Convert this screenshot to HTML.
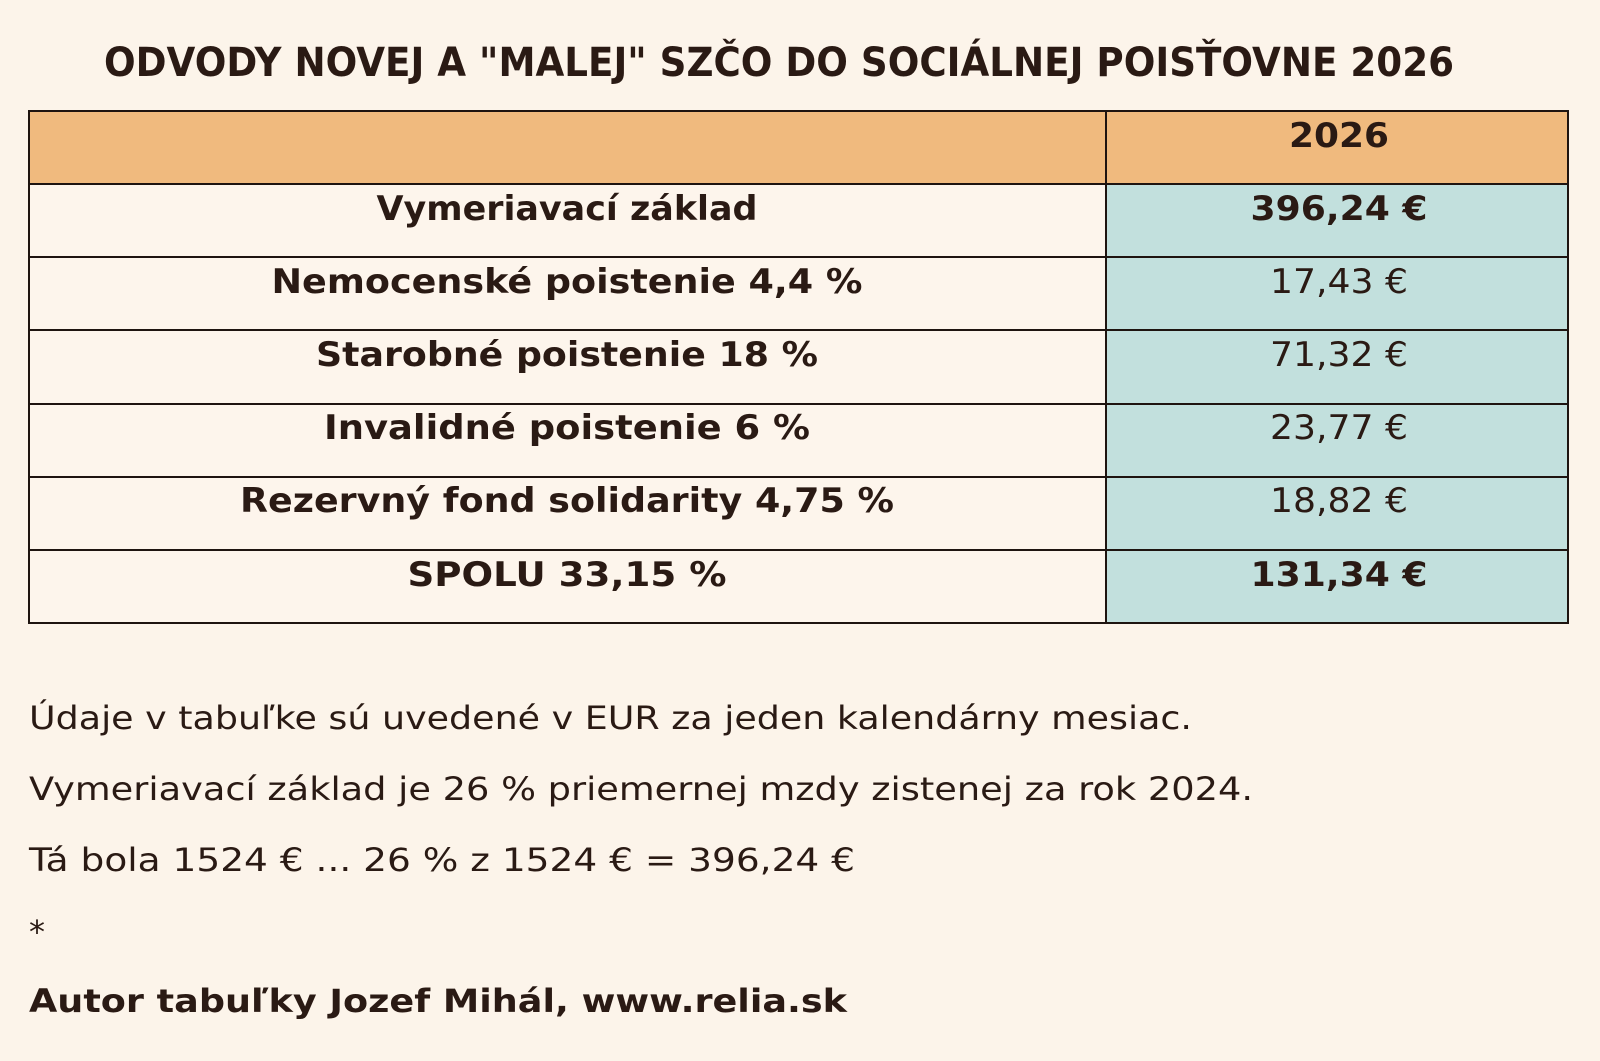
<!DOCTYPE html>
<html><head><meta charset="utf-8"><style>html,body{margin:0;padding:0;background:#fcf4ea}svg{display:block}</style></head>
<body>
<svg width="1600" height="1061" viewBox="0 0 1600 1061" xmlns="http://www.w3.org/2000/svg" font-family="'DejaVu Sans','Liberation Sans',sans-serif" fill="#2a1a14">
<rect width="1600" height="1061" fill="#fcf4ea"/>
<text x="104" y="76" font-size="40" font-weight="bold" textLength="1350" lengthAdjust="spacingAndGlyphs">ODVODY NOVEJ A "MALEJ" SZČO DO SOCIÁLNEJ POISŤOVNE 2026</text>
<rect x="29" y="111" width="1539" height="73" fill="#f0ba7e"/>
<rect x="1106" y="184" width="462" height="439" fill="#c2e0dd"/>
<rect x="29" y="184" width="1077" height="439" fill="#fdf5ec"/>
<g stroke="#1e1410" stroke-width="2" fill="none">
<rect x="29" y="111" width="1539" height="512"/>
<line x1="1106" y1="111" x2="1106" y2="623"/>
<line x1="29" y1="184" x2="1568" y2="184"/>
<line x1="29" y1="257" x2="1568" y2="257"/>
<line x1="29" y1="330" x2="1568" y2="330"/>
<line x1="29" y1="404" x2="1568" y2="404"/>
<line x1="29" y1="477" x2="1568" y2="477"/>
<line x1="29" y1="550" x2="1568" y2="550"/>
</g>
<g font-size="34" font-weight="bold" text-anchor="middle">
<text x="1339" y="147" textLength="100" lengthAdjust="spacingAndGlyphs">2026</text>
<text x="567" y="220" textLength="381" lengthAdjust="spacingAndGlyphs">Vymeriavací základ</text>
<text x="567" y="293" textLength="591" lengthAdjust="spacingAndGlyphs">Nemocenské poistenie 4,4 %</text>
<text x="567" y="366" textLength="502" lengthAdjust="spacingAndGlyphs">Starobné poistenie 18 %</text>
<text x="567" y="439" textLength="486" lengthAdjust="spacingAndGlyphs">Invalidné poistenie 6 %</text>
<text x="567" y="512" textLength="654" lengthAdjust="spacingAndGlyphs">Rezervný fond solidarity 4,75 %</text>
<text x="567" y="586" textLength="319" lengthAdjust="spacingAndGlyphs">SPOLU 33,15 %</text>
<text x="1339" y="220" textLength="177" lengthAdjust="spacingAndGlyphs">396,24 €</text>
<text x="1339" y="586" textLength="177" lengthAdjust="spacingAndGlyphs">131,34 €</text>
</g>
<g font-size="34" text-anchor="middle">
<text x="1339" y="293" textLength="138" lengthAdjust="spacingAndGlyphs">17,43 €</text>
<text x="1339" y="366" textLength="138" lengthAdjust="spacingAndGlyphs">71,32 €</text>
<text x="1339" y="439" textLength="138" lengthAdjust="spacingAndGlyphs">23,77 €</text>
<text x="1339" y="512" textLength="138" lengthAdjust="spacingAndGlyphs">18,82 €</text>
</g>
<g font-size="32">
<text x="29" y="729" textLength="1163" lengthAdjust="spacingAndGlyphs">Údaje v tabuľke sú uvedené v EUR za jeden kalendárny mesiac.</text>
<text x="29" y="800" textLength="1224" lengthAdjust="spacingAndGlyphs">Vymeriavací základ je 26 % priemernej mzdy zistenej za rok 2024.</text>
<text x="29" y="871" textLength="826" lengthAdjust="spacingAndGlyphs">Tá bola 1524 € ... 26 % z 1524 € = 396,24 €</text>
<text x="29" y="943">*</text>
<text x="29" y="1012" font-weight="bold" textLength="818" lengthAdjust="spacingAndGlyphs">Autor tabuľky Jozef Mihál, www.relia.sk</text>
</g>
</svg>
</body></html>
